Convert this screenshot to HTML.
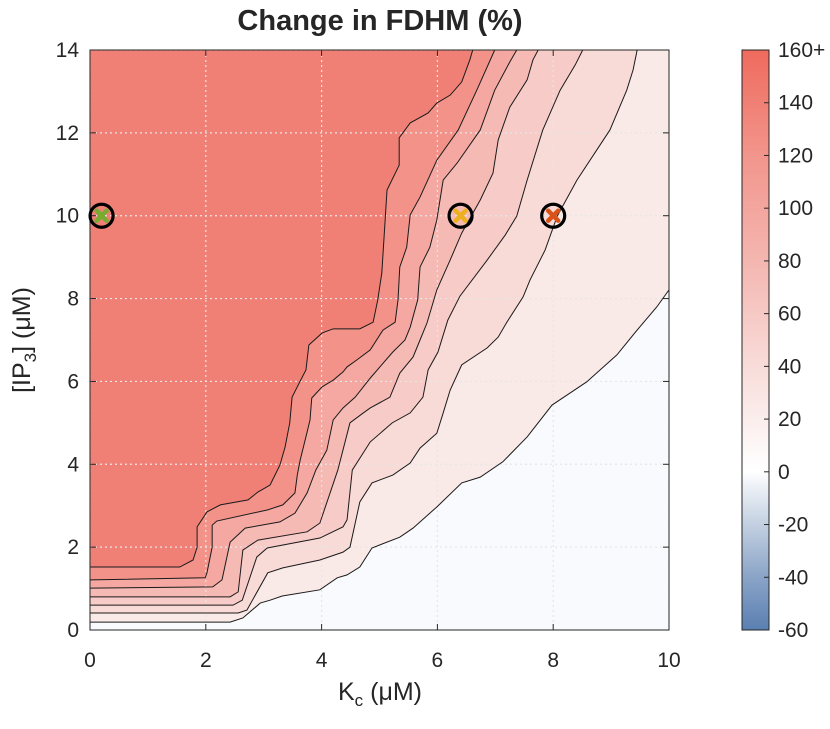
<!DOCTYPE html>
<html><head><meta charset="utf-8"><style>
body{margin:0;background:#fff;}
svg text{font-family:"Liberation Sans",sans-serif;fill:#262626;}
</style></head><body>
<svg id="chart" width="830" height="724" viewBox="0 0 830 724" xmlns="http://www.w3.org/2000/svg">
<text x="380" y="30" font-size="29" font-weight="bold" text-anchor="middle">Change in FDHM (%)</text>
<g id="plot"></g>
<g id="cbar"></g>
<text x="380" y="700" font-size="25" text-anchor="middle">K<tspan font-size="17" dy="6">c</tspan><tspan dy="-6"> (μM)</tspan></text>
<text transform="translate(30,340) rotate(-90)" font-size="25" text-anchor="middle">[IP<tspan font-size="17" dy="6">3</tspan><tspan dy="-6">] (μM)</tspan></text>
</svg>
<script>
const xTicks=[0,2,4,6,8,10];
const yTicks=[0,2,4,6,8,10,12,14];
const cbTicks=[-60,-40,-20,0,20,40,60,80,100,120,140,160];
const cbLabels=["-60","-40","-20","0","20","40","60","80","100","120","140","160+"];
const bandColors=["#f9e9e7","#f8dad7","#f7cbc7","#f6bab5","#f4a8a1","#f29289","#f08076"];
const L1=[[0,1.52],[1.55,1.52],[1.78,1.69],[1.85,2.0],[1.85,2.49],[2.02,2.85],[2.25,3.02],[2.73,3.14],[2.9,3.33],[3.11,3.5],[3.28,3.98],[3.37,4.42],[3.45,5.0],[3.49,5.62],[3.58,5.87],[3.73,6.28],[3.75,6.52],[3.78,6.88],[4.01,7.17],[4.2,7.27],[4.66,7.27],[4.89,7.43],[4.97,7.97],[5.04,8.62],[5.13,10.62],[5.34,11.22],[5.34,11.88],[5.53,12.24],[5.84,12.48],[5.99,12.72],[6.22,12.91],[6.42,13.23],[6.56,13.76],[6.61,14]];
const L2=[[0,1.21],[1.99,1.26],[2.02,1.38],[2.11,2.0],[2.11,2.53],[2.19,2.63],[3.07,2.9],[3.33,3.02],[3.54,3.31],[3.58,3.74],[3.63,4.1],[3.75,4.78],[3.8,5.07],[3.83,5.6],[4.01,5.87],[4.2,6.03],[4.37,6.23],[4.44,6.35],[4.61,6.52],[4.84,6.76],[5.06,7.24],[5.27,7.43],[5.32,7.97],[5.35,8.76],[5.47,9.24],[5.53,10.02],[5.7,10.45],[5.99,11.34],[6.36,12.07],[6.68,13.03],[6.99,14]];
const L3=[[0,1.01],[2.12,1.04],[2.28,1.21],[2.42,2.12],[2.68,2.46],[3.28,2.61],[3.54,2.82],[3.75,3.31],[3.9,3.86],[4.09,4.34],[4.2,5.07],[4.37,5.36],[4.58,5.62],[4.84,6.08],[5.23,6.71],[5.44,7.0],[5.53,7.31],[5.66,7.97],[5.7,8.76],[5.87,9.24],[5.99,9.9],[6.1,10.86],[6.34,11.27],[6.74,12.07],[6.99,13.03],[7.25,13.71],[7.37,14]];
const L4=[[0,0.8],[2.42,0.8],[2.56,0.92],[2.64,1.93],[2.9,2.17],[3.75,2.37],[3.97,2.58],[4.28,3.86],[4.49,5.0],[4.72,5.24],[4.84,5.36],[5.18,5.62],[5.35,6.2],[5.58,6.59],[5.7,7.0],[5.82,7.41],[5.99,8.21],[6.22,8.93],[6.42,9.58],[6.74,10.38],[6.96,11.03],[7.05,11.83],[7.25,12.62],[7.55,13.28],[7.65,13.76],[7.74,14]];
const L5=[[0,0.6],[2.47,0.6],[2.63,0.72],[2.88,1.76],[3.06,1.98],[3.97,2.22],[4.37,2.49],[4.44,2.66],[4.53,3.86],[4.84,4.54],[5.22,5.0],[5.53,5.24],[5.75,5.62],[5.84,6.28],[6.01,6.71],[6.18,7.48],[6.39,8.06],[6.86,8.93],[7.17,9.53],[7.37,9.99],[7.55,10.86],[7.82,12.07],[8.12,13.03],[8.38,13.64],[8.51,14]];
const L6=[[0,0.41],[2.56,0.41],[2.71,0.48],[3.07,1.38],[3.33,1.5],[3.97,1.69],[4.37,1.88],[4.49,2.0],[4.66,3.09],[4.87,3.55],[5.23,3.74],[5.53,4.03],[5.7,4.39],[5.99,4.75],[6.1,5.24],[6.22,5.79],[6.42,6.4],[6.86,6.81],[7.05,7.07],[7.2,7.43],[7.48,8.04],[7.6,8.45],[7.86,9.17],[8.07,9.99],[8.41,10.86],[8.98,12.07],[9.27,13.03],[9.38,13.52],[9.45,14]];
const L7=[[0,0.19],[2.42,0.19],[2.64,0.29],[2.94,0.65],[3.11,0.72],[3.32,0.82],[3.97,0.97],[4.27,1.26],[4.44,1.33],[4.66,1.52],[4.87,1.98],[5.35,2.24],[5.58,2.46],[5.99,2.97],[6.42,3.55],[6.74,3.69],[7.13,4.06],[7.55,4.66],[7.98,5.43],[8.29,5.72],[8.58,5.99],[9.1,6.64],[9.45,7.24],[9.79,7.8],[10,8.21]];
const contours=[L7,L6,L5,L4,L3,L2,L1];
const markerK=[0.2,6.4,8.0];
const markerIP=[10,10,10];
const markerColors=["#77ac30","#edb120","#d95319"];

const NS="http://www.w3.org/2000/svg";
const X0=90,X1=669,Y0=630,Y1=50;
const sx=k=>X0+(k-0)/(10-0)*(X1-X0);
const sy=v=>Y0-(v-0)/(14-0)*(Y0-Y1);
const CB0=742,CB1=769;
const cy=v=>Y0-(v+60)/220*(Y0-Y1);
function mk(tag,attrs,parent){const e=document.createElementNS(NS,tag);for(const k in attrs)e.setAttribute(k,attrs[k]);parent.appendChild(e);return e;}
const plot=document.getElementById('plot');
const bg=mk('rect',{x:X0,y:Y1,width:X1-X0,height:Y0-Y1,fill:"#f8fafd"},plot);


contours.forEach((c,i)=>{
  let pts=c.map(p=>sx(p[0])+","+sy(p[1]));
  const last=c[c.length-1];
  if(last[0]>=10) pts.push(sx(10)+","+sy(14));
  pts.push(sx(0)+","+sy(14));
  const f=mk('polygon',{points:pts.join(" "),fill:bandColors[i],stroke:"none"},plot);
  
  
});
xTicks.forEach(t=>{const g=mk('line',{x1:sx(t),x2:sx(t),y1:Y1,y2:Y0,stroke:"#e6e6e6","stroke-width":1.2,"stroke-dasharray":"2 3"},plot);

});
yTicks.forEach(t=>{const g=mk('line',{x1:X0,x2:X1,y1:sy(t),y2:sy(t),stroke:"#e6e6e6","stroke-width":1.2,"stroke-dasharray":"2 3"},plot);

});
contours.forEach((c,i)=>{
  const l=mk('polyline',{points:c.map(p=>sx(p[0])+","+sy(p[1])).join(" "),fill:"none",stroke:"#1a1a1a","stroke-width":1},plot);
  
  
});
const box=mk('rect',{x:X0,y:Y1,width:X1-X0,height:Y0-Y1,fill:"none",stroke:"#262626","stroke-width":1},plot);


xTicks.forEach(t=>{
  mk('line',{x1:sx(t),x2:sx(t),y1:Y0,y2:Y0-6,stroke:"#262626"},plot);
  mk('line',{x1:sx(t),x2:sx(t),y1:Y1,y2:Y1+6,stroke:"#262626"},plot);
  const tx=mk('text',{x:sx(t),y:667,"font-size":21,"text-anchor":"middle"},plot);tx.textContent=t;
  
  
});
yTicks.forEach(t=>{
  mk('line',{x1:X0,x2:X0+6,y1:sy(t),y2:sy(t),stroke:"#262626"},plot);
  mk('line',{x1:X1,x2:X1-6,y1:sy(t),y2:sy(t),stroke:"#262626"},plot);
  const tx=mk('text',{x:79,y:sy(t)+7,"font-size":21,"text-anchor":"end"},plot);tx.textContent=t;
  
  
});
markerK.forEach((k,i)=>{
  const cx=sx(k),cyy=sy(markerIP[i]);
  const c=mk('circle',{cx:cx,cy:cyy,r:11.5,fill:"none",stroke:"#000","stroke-width":3.2},plot);
  
  
  const x=mk('path',{d:`M${cx-5},${cyy-5}L${cx+5},${cyy+5}M${cx-5},${cyy+5}L${cx+5},${cyy-5}`,stroke:markerColors[i],"stroke-width":4.5,"stroke-linecap":"round"},plot);
  
  
});
// colorbar
const cb=document.getElementById('cbar');
const defs=mk('defs',{},cb);
const lg=mk('linearGradient',{id:"cbg",x1:0,y1:1,x2:0,y2:0},defs);
[[-60,"#5a7fb2"],[-40,"#8aa4c7"],[-20,"#c3d0e1"],[-5,"#eef2f7"],[0,"#ffffff"],[5,"#fdfbfb"],[40,"#f8dcd9"],[80,"#f4b6b0"],[120,"#f2958c"],[160,"#ef6a5d"]].forEach(s=>{
  mk('stop',{offset:((s[0]+60)/220),"stop-color":s[1]},lg);
});
const cr=mk('rect',{x:CB0,y:Y1,width:CB1-CB0,height:Y0-Y1,fill:"url(#cbg)",stroke:"#262626","stroke-width":1},cb);


cbTicks.forEach((t,i)=>{
  mk('line',{x1:CB1,x2:CB1-5,y1:cy(t),y2:cy(t),stroke:"#262626"},cb);
  const tx=mk('text',{x:778,y:cy(t)+7,"font-size":21},cb);tx.textContent=cbLabels[i];
  
  
});
</script>
</body></html>
